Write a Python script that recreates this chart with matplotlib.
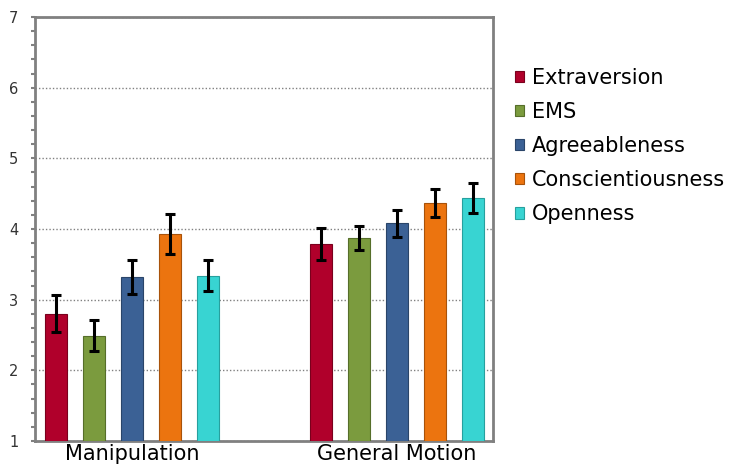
import numpy as np
import matplotlib
matplotlib.use("Agg")
import matplotlib.pyplot as plt
from matplotlib.ticker import MultipleLocator

groups = ["Manipulation", "General Motion"]
traits = ["Extraversion", "EMS", "Agreeableness", "Conscientiousness", "Openness"]
colors = ["#B0002B", "#7B9B3E", "#3B6195", "#EC740F", "#38D4D2"]
edges = ["#7A001D", "#566E2A", "#2A4569", "#A8520A", "#27A09E"]

# mean values per trait, [Manipulation, General Motion]
extraversion = [2.80, 3.79]
ems = [2.49, 3.87]
agreeableness = [3.32, 4.08]
conscientiousness = [3.93, 4.37]
openness = [3.34, 4.44]

# error bar half-lengths
err_extraversion = [0.26, 0.23]
err_ems = [0.22, 0.17]
err_agreeableness = [0.24, 0.19]
err_conscientiousness = [0.28, 0.20]
err_openness = [0.22, 0.21]

values = [extraversion, ems, agreeableness, conscientiousness, openness]
errors = [err_extraversion, err_ems, err_agreeableness, err_conscientiousness, err_openness]

fig = plt.figure(figsize=(7.36, 4.68), dpi=100)
ax = fig.add_axes([0.0476, 0.0577, 0.6223, 0.906])

x = np.arange(len(groups))
step = 0.143
width = 0.083
for i, name in enumerate(traits):
    pos = x + (i - 2) * step
    ax.bar(pos, np.array(values[i]) - 1, bottom=1, width=width, color=colors[i],
           edgecolor=edges[i], linewidth=0.8, label=name, zorder=3)
    ax.errorbar(pos, values[i], yerr=errors[i], fmt="none", ecolor="black",
                elinewidth=2.2, capsize=3.5, capthick=2.2, zorder=4)

ax.set_xlim(-0.366, 1.362)
ax.set_ylim(1, 7)
ax.yaxis.set_major_locator(MultipleLocator(1))
ax.yaxis.set_minor_locator(MultipleLocator(0.2))
ax.grid(axis="y", which="major", linestyle=(0, (1, 1.5)), color="#808080", linewidth=1.0, zorder=0)

for s in ax.spines.values():
    s.set_color("#808080")
    s.set_linewidth(2)

ax.set_xticks(x)
ax.set_xticklabels(groups, fontsize=15)
ax.tick_params(axis="x", length=0, pad=2)
ax.tick_params(axis="y", which="major", length=3, width=1.5, color="#808080",
               labelsize=10.5, labelcolor="#333333", pad=9)
ax.tick_params(axis="y", which="minor", length=3, width=1.5, color="#808080")

leg = ax.legend(loc="upper left", bbox_to_anchor=(1.03, 0.9), frameon=False,
                fontsize=15, handlelength=0.45, handleheight=0.45, handletextpad=0.35,
                labelspacing=0.68, borderaxespad=0)

fig.savefig("out.png", dpi=100)
